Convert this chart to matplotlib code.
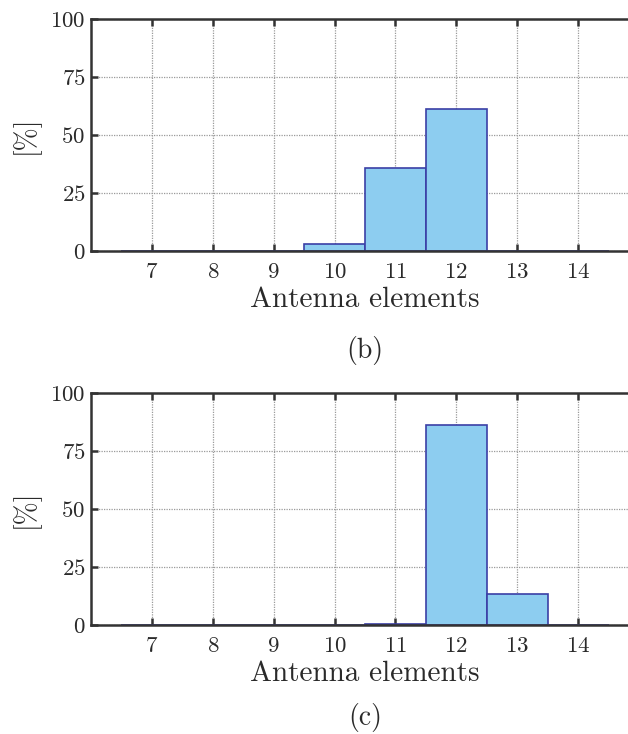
import matplotlib
matplotlib.use("Agg")
import matplotlib.pyplot as plt

plt.rcParams['font.family'] = 'serif'
plt.rcParams['font.serif'] = ['cmr10', 'DejaVu Serif']
plt.rcParams['mathtext.fontset'] = 'cm'
plt.rcParams['axes.formatter.use_mathtext'] = True
plt.rcParams['axes.unicode_minus'] = False

elements = [7, 8, 9, 10, 11, 12, 13, 14]
share_b = [0, 0, 0, 2.9, 35.9, 61.2, 0, 0]
share_c = [0, 0, 0, 0, 0.3, 86.3, 13.4, 0]
yticks = [0, 25, 50, 75, 100]
panel_labels = ['(b)', '(c)']
xlabel = 'Antenna elements'
ylabel = '[%]'

face = '#8dcdf0'
edge = '#3b3fa6'
spine = '#333333'
txt = '#2a2a2a'

fig = plt.figure(figsize=(6.28, 7.34), dpi=100)
W, H = 628, 734
positions = [(91, 19, 251), (91, 393, 625)]
caption_y = [350, 718]

for (left, top, bot), data, lab, cy in zip(positions, [share_b, share_c], panel_labels, caption_y):
    ax_w = 548
    ax_h = bot - top
    ax = fig.add_axes([left / W, 1 - bot / H, ax_w / W, ax_h / H])
    ax.bar(elements, data, width=1.0, color=face, edgecolor=edge, linewidth=1.2, zorder=2)
    ax.set_xlim(6, 15)
    ax.set_ylim(0, 100)
    ax.set_xticks(elements)
    ax.set_yticks(yticks)
    ax.set_axisbelow(True)
    ax.grid(True, linestyle=(0, (1, 1)), color='#9a9a9a', linewidth=0.9)
    for s in ax.spines.values():
        s.set_color(spine)
        s.set_linewidth(1.8)
        s.set_zorder(3)
    ax.tick_params(direction='in', top=True, right=False, length=5, width=1.8,
                   color=spine, labelsize=16.5, labelcolor=txt)
    ax.tick_params(axis='x', pad=8)
    ax.tick_params(axis='y', pad=4)
    xl = ax.set_xlabel(xlabel, fontsize=21, color=txt)
    yl = ax.set_ylabel(ylabel, fontsize=20, color=txt)
    ax.xaxis.set_label_coords(0.5, -49 / ax_h)
    xl.set_va('center')
    ax.yaxis.set_label_coords((25 - left) / ax_w, 0.5)
    yl.set_va('center')
    fig.text(365 / W, 1 - cy / H, lab, ha='center', va='center', fontsize=20, color=txt)

fig.savefig('out.png', dpi=100)
